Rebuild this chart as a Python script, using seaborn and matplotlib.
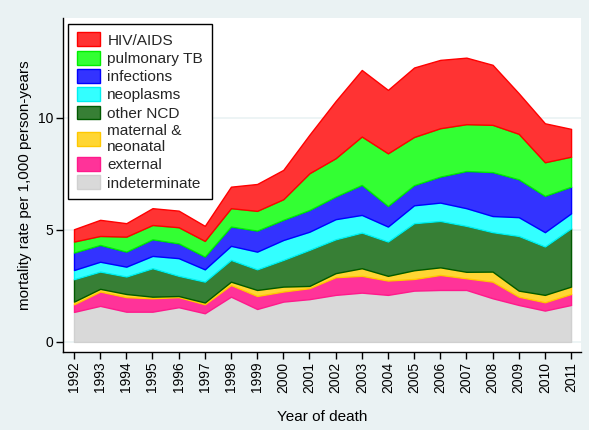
import numpy as np
import pandas as pd
import matplotlib
matplotlib.use("Agg")
import matplotlib.pyplot as plt
import seaborn as sns

sns.set_theme(style="white")
plt.rcParams["font.family"] = ["Liberation Sans", "DejaVu Sans"]

years = list(range(1992, 2012))

# mortality rate per 1,000 person-years, by cause
indeterminate = [1.34, 1.61, 1.35, 1.35, 1.55, 1.28, 2.02, 1.47, 1.80, 1.91,
                 2.10, 2.20, 2.10, 2.29, 2.32, 2.32, 1.95, 1.65, 1.40, 1.65]
external = [0.34, 0.64, 0.65, 0.60, 0.45, 0.40, 0.52, 0.58, 0.45, 0.49,
            0.79, 0.75, 0.64, 0.52, 0.67, 0.52, 0.74, 0.37, 0.37, 0.49]
maternal = [0.12, 0.12, 0.14, 0.07, 0.05, 0.08, 0.15, 0.27, 0.22, 0.10,
            0.18, 0.34, 0.21, 0.39, 0.34, 0.29, 0.45, 0.27, 0.33, 0.33]
other_ncd = [1.00, 0.77, 0.78, 1.27, 0.90, 0.93, 0.97, 0.92, 1.19, 1.61,
             1.51, 1.59, 1.53, 2.10, 2.07, 2.05, 1.76, 2.44, 2.16, 2.60]
neoplasms = [0.41, 0.44, 0.44, 0.55, 0.79, 0.55, 0.63, 0.79, 0.89, 0.81,
             0.90, 0.79, 0.67, 0.80, 0.82, 0.79, 0.72, 0.84, 0.64, 0.67]
infections = [0.78, 0.75, 0.67, 0.74, 0.66, 0.57, 0.86, 0.94, 0.90, 0.97,
              1.01, 1.34, 0.92, 0.90, 1.16, 1.66, 1.96, 1.69, 1.62, 1.19]
pulmonary_tb = [0.49, 0.40, 0.67, 0.64, 0.72, 0.70, 0.82, 0.88, 0.92, 1.64,
                1.71, 2.16, 2.35, 2.15, 2.16, 2.09, 2.11, 2.03, 1.50, 1.34]
hiv_aids = [0.55, 0.72, 0.60, 0.75, 0.74, 0.67, 0.96, 1.20, 1.31, 1.72,
            2.55, 2.97, 2.83, 3.10, 3.05, 2.97, 2.68, 1.81, 1.74, 1.24]

# bottom to top
causes = ["indeterminate", "external", "maternal &\nneonatal", "other NCD",
          "neoplasms", "infections", "pulmonary TB", "HIV/AIDS"]
series = [indeterminate, external, maternal, other_ncd,
          neoplasms, infections, pulmonary_tb, hiv_aids]
fills = ["#D9D9D9", "#FF3399", "#FFD633", "#377F35",
         "#33FFFF", "#3333FF", "#33FF33", "#FF3333"]
edges = ["#D0D0D0", "#FF1A8C", "#FFC800", "#005A00",
         "#00F0F0", "#0000FF", "#00EE00", "#FF0000"]

df = pd.DataFrame(dict(zip(causes, series)), index=years)
tops = df.cumsum(axis=1)

bg = "#EAF2F3"
fig = plt.figure(figsize=(5.89, 4.30), dpi=100, facecolor=bg)
ax = fig.add_axes([63 / 589, 1 - 352 / 430, (581 - 63) / 589, (352 - 18) / 430])
ax.set_facecolor("white")

lower = np.zeros(len(years))
handles = []
for name, fc, ec in zip(causes, fills, edges):
    upper = tops[name].to_numpy()
    h = ax.fill_between(df.index, lower, upper, facecolor=fc, edgecolor=ec,
                        linewidth=1.0, label=name, zorder=2)
    handles.append(h)
    lower = upper

ax.set_xlim(1991.58, 2011.38)
ax.set_ylim(-0.45, 14.46)
ax.set_yticks([0, 5, 10])
ax.set_xticks(years)
ax.set_xticklabels([str(y) for y in years], rotation=90)
ax.yaxis.grid(True, color=bg, linewidth=1.2, zorder=0)
ax.set_axisbelow(True)

for s in ["top", "right"]:
    ax.spines[s].set_visible(False)
for s in ["left", "bottom"]:
    ax.spines[s].set_color("black")
    ax.spines[s].set_linewidth(1.0)

ax.tick_params(axis="both", which="major", direction="out", length=5, width=1,
               color="black", labelsize=10, labelcolor="black", pad=2,
               left=True, bottom=True)
ax.set_xlabel("Year of death", fontsize=11, color="black", labelpad=12)
ax.set_ylabel("mortality rate per 1,000 person-years", fontsize=11,
              color="black", labelpad=4)

leg = ax.legend(handles[::-1], causes[::-1], loc="upper left",
                bbox_to_anchor=(0.0097, 0.982), borderaxespad=0,
                frameon=True, fancybox=False, fontsize=11.1,
                handlelength=1.5, handleheight=1.0, handletextpad=0.5,
                labelspacing=0.2, borderpad=0.55)
for t in leg.get_texts():
    t.set_linespacing(1.2)
leg.get_frame().set_edgecolor("black")
leg.get_frame().set_linewidth(1.0)
leg.get_frame().set_facecolor("white")
leg.get_frame().set_alpha(1)

fig.savefig("out.png", dpi=100, facecolor=bg)
